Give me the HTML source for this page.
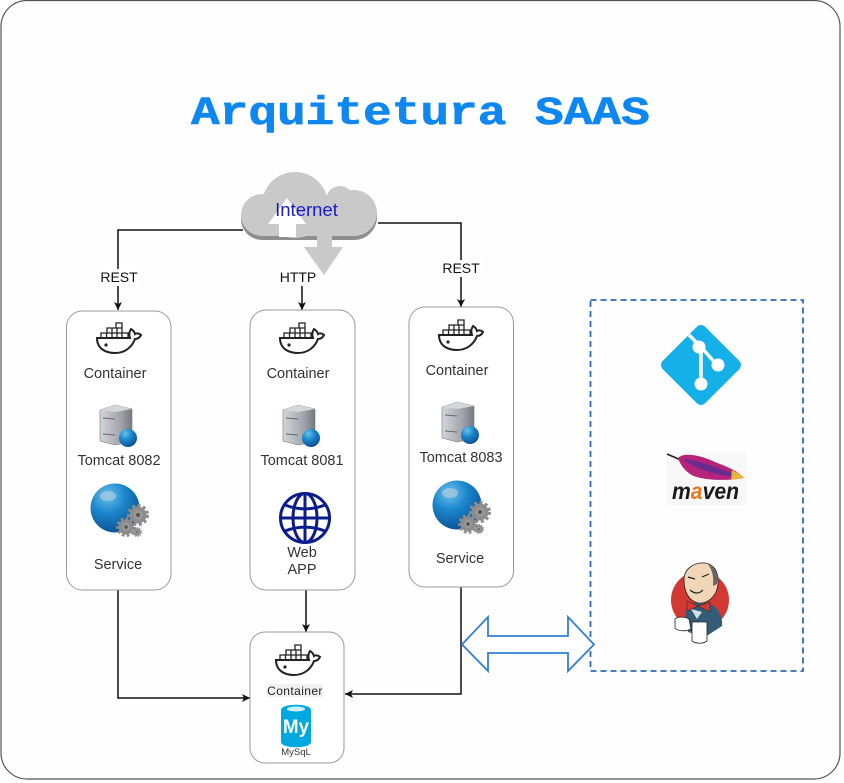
<!DOCTYPE html>
<html><head><meta charset="utf-8"><title>Arquitetura SAAS</title>
<style>html,body{margin:0;padding:0;background:#fff}svg{display:block}text{font-family:"Liberation Sans",sans-serif}</style></head>
<body>
<svg width="844" height="783" viewBox="0 0 844 783" xmlns="http://www.w3.org/2000/svg">
<defs>
<marker id="a" markerWidth="10" markerHeight="10" refX="8" refY="4" orient="auto" markerUnits="userSpaceOnUse"><path d="M0 0L8 4L0 8L2 4Z" fill="#111"/></marker>
<g id="docker">
<path d="M-21 -1C-21 10 -12 14 -3 14C7 14 14 8 17 0C20 0 22 -2 23 -4C21 -6 18 -6 17 -5C16 -8 15 -9 13 -10C11 -7 11 -4 12 -1Z" fill="#fff" stroke="#222" stroke-width="2"/>
<path d="M-17 -1V-6H10V-1M-11 -6V-11H4V-6M-2 -11V-16H4V-11M-11.500 -6V-1M-6 -11V-1M-1 -11V-1M4 -6V-1" fill="none" stroke="#222" stroke-width="1.300"/>
<circle cx="-12" cy="6" r="1.600" fill="#222"/>
</g>
<radialGradient id="blue" cx="35%" cy="25%" r="80%"><stop offset="0" stop-color="#6cc1ea"/><stop offset=".45" stop-color="#1b86cc"/><stop offset="1" stop-color="#0a4f8f"/></radialGradient>
<linearGradient id="srv" x1="0" x2="1"><stop offset="0" stop-color="#d2d5da"/><stop offset=".65" stop-color="#a0a4aa"/><stop offset="1" stop-color="#767a80"/></linearGradient>
<g id="server">
<path d="M-18 -21L-3 -26L14 -22V11L-3 14L-18 10Z" fill="url(#srv)" stroke="#777" stroke-width=".6"/>
<path d="M-18 -21L-3 -26L14 -22L-3 -19Z" fill="#d4d6da"/>
<path d="M-15 -13L-3 -12M-15 3L-3 4" stroke="#666"/>
<circle cx="10" cy="7" r="9" fill="url(#blue)"/>
</g>
<g id="gear"><circle r="6.500" fill="#9a9a9a" stroke="#8c8c8c" stroke-width="4"/><circle r="9.500" fill="none" stroke="#8c8c8c" stroke-width="3" stroke-dasharray="3 2.500"/><circle r="2" fill="#555"/></g>
<g id="service">
<circle cx="0" cy="0" r="24.500" fill="url(#blue)"/>
<ellipse cx="-7" cy="-12" rx="8" ry="5" fill="#a8c8dc" opacity=".75"/>
<use href="#gear" transform="translate(23 7)"/>
<use href="#gear" transform="translate(11 19) scale(.9)"/>
<use href="#gear" transform="translate(22 24) scale(.45)"/>
</g>
</defs>

<rect width="844" height="783" fill="#fff"/>
<rect x="1" y="0.500" width="839" height="778.500" rx="26" fill="#fefefe" stroke="#555" stroke-width="1.200"/>
<text transform="translate(191 124) scale(1.210 1)" style="font-family:'Liberation Mono',monospace;font-weight:bold;font-size:39.500px" fill="#0f87f0" stroke="#0f87f0" stroke-width=".6">Arquitetura SAAS</text>

<!-- connectors -->
<g fill="none" stroke="#111" stroke-width="1.500">
<path d="M243 230H118V310" marker-end="url(#a)"/>
<path d="M378 223H461V307" marker-end="url(#a)"/>
<path d="M302 286V310" marker-end="url(#a)"/>
<path d="M118 590V698H250" marker-end="url(#a)"/>
<path d="M461 587V694H345" marker-end="url(#a)"/>
<path d="M306 590V632" marker-end="url(#a)"/>
</g>
<rect x="98" y="269" width="42" height="17" fill="#fff"/>
<rect x="440" y="260" width="42" height="17" fill="#fff"/>
<text x="119" y="282" font-size="14" text-anchor="middle" fill="#111">REST</text>
<text x="461" y="273" font-size="14" text-anchor="middle" fill="#111">REST</text>

<!-- boxes -->
<g fill="#fff" stroke="#9a9a9a" stroke-width="1">
<rect x="66.500" y="311" width="104.500" height="279" rx="16"/>
<rect x="250" y="310" width="105" height="280" rx="16"/>
<rect x="409" y="307" width="104.500" height="280" rx="16"/>
<rect x="250" y="632" width="94" height="131" rx="15"/>
</g>

<!-- cloud -->
<path d="M317 238H332V247H343L324 275L304 247H317Z" fill="#c9c9c9"/>
<g fill="#8e8e8e" transform="translate(0 4)">
<circle cx="262" cy="215" r="21"/><circle cx="354" cy="213" r="23"/><rect x="262" y="216" width="92" height="20"/>
</g>
<g fill="#c9c9c9">
<circle cx="262" cy="215" r="21"/>
<circle cx="295" cy="205" r="33"/>
<circle cx="340" cy="200" r="14"/>
<circle cx="354" cy="213" r="23"/>
<rect x="262" y="200" width="92" height="36"/>
</g>
<path d="M317 236H332V247H343L324 275L304 247H317Z" fill="#c9c9c9"/>
<path d="M287 198L306 224H296V237H279V224H268Z" fill="#fff"/>
<text x="306.500" y="216" font-size="18.500" text-anchor="middle" fill="#1a1acd">Internet</text>
<text x="298" y="282" font-size="14" text-anchor="middle" fill="#111">HTTP</text>

<!-- column 1 -->
<use href="#docker" x="118" y="339"/>
<text x="115" y="378" font-size="14.500" text-anchor="middle" fill="#333">Container</text>
<use href="#server" x="118" y="431"/>
<text x="119" y="465" font-size="14.500" text-anchor="middle" fill="#333">Tomcat 8082</text>
<use href="#service" x="115" y="508"/>
<text x="118" y="569" font-size="14.500" text-anchor="middle" fill="#333">Service</text>

<!-- column 2 -->
<use href="#docker" x="301" y="339"/>
<text x="298" y="378" font-size="14.500" text-anchor="middle" fill="#333">Container</text>
<use href="#server" x="301" y="431"/>
<text x="302" y="465" font-size="14.500" text-anchor="middle" fill="#333">Tomcat 8081</text>
<g fill="none" stroke="#0b1c8c" stroke-width="3">
<circle cx="305" cy="518" r="24.500"/>
<ellipse cx="305" cy="518" rx="12" ry="24.500"/>
<path d="M305 493.500V542.500M281 518H329M285 505C298 510 312 510 325 505M285 531C298 526 312 526 325 531"/>
</g>
<text x="302" y="557" font-size="14.500" text-anchor="middle" fill="#333">Web</text>
<text x="302" y="574" font-size="14.500" text-anchor="middle" fill="#333">APP</text>

<!-- column 3 -->
<use href="#docker" x="460" y="336"/>
<text x="457" y="375" font-size="14.500" text-anchor="middle" fill="#333">Container</text>
<use href="#server" x="460" y="428"/>
<text x="461" y="462" font-size="14.500" text-anchor="middle" fill="#333">Tomcat 8083</text>
<use href="#service" x="457" y="505"/>
<text x="460" y="563" font-size="14.500" text-anchor="middle" fill="#333">Service</text>

<!-- db box -->
<use href="#docker" x="297" y="661"/>
<rect x="267" y="684" width="56" height="13" fill="#f1f1f1"/>
<text x="295" y="695" font-size="12" text-anchor="middle" fill="#222" letter-spacing=".4">Container</text>
<path d="M281 710C281 703 311 703 311 710V742C311 749 281 749 281 742Z" fill="#00a8e0"/>
<ellipse cx="296" cy="709" rx="9" ry="2.500" fill="#cdeffa"/>
<text x="283" y="733" font-size="19" font-weight="bold" textLength="26" lengthAdjust="spacingAndGlyphs" fill="#fff">My</text>
<text x="296" y="755" font-size="9.500" text-anchor="middle" fill="#333">MySqL</text>

<!-- dashed -->
<rect x="590.500" y="300" width="212.500" height="371" fill="none" stroke="#2b6cb5" stroke-width="1.800" stroke-dasharray="6 4"/>

<!-- double arrow -->
<path d="M462 644.500L488 617V636H568V617L594 644.500L568 671V653H488V671Z" fill="#fff" stroke="#2f80d8" stroke-width="1.800"/>

<!-- git -->
<rect x="671" y="335" width="60" height="60" rx="6" transform="rotate(45 701 365)" fill="#15b0e8"/>
<path d="M689 335L701 347V386M701 347L717 365" fill="none" stroke="#fff" stroke-width="3.500"/>
<circle cx="699" cy="347" r="6.500" fill="#fff"/>
<circle cx="718" cy="365" r="6.500" fill="#fff"/>
<circle cx="701" cy="384" r="6.500" fill="#fff"/>

<!-- maven -->
<rect x="666" y="452" width="80" height="54" fill="#f8f8f8"/>
<path d="M667 454L690 464" stroke="#222" stroke-width="1.500"/>
<path d="M678 458C684 452 700 455 715 462C728 467 738 471 744 478C730 481 700 481 690 474C684 470 680 464 678 458Z" fill="#b5237a"/>
<path d="M682 459C702 461 725 470 741 477C720 477 698 470 682 459Z" fill="#6b2c91"/>
<path d="M732 470C738 473 742 475 744 478L731 480Z" fill="#e5b73b"/>
<text x="672" y="499" font-size="23" font-weight="bold" font-style="italic" textLength="67" lengthAdjust="spacingAndGlyphs" fill="#1a1a1a">m<tspan fill="#e8781e">a</tspan>ven</text>

<!-- jenkins -->
<circle cx="700" cy="600" r="29" fill="#d33833"/>
<path d="M685 614C687 604 697 601 707 603C718 606 723 616 722 626L705 637L688 632Z" fill="#335c78"/>
<path d="M684 580C684 568 695 562 705 563C714 564 719 572 718 584C717 596 708 604 698 603C689 601 684 592 684 580Z" fill="#f0d6b7" stroke="#222" stroke-width=".8"/>
<path d="M708 564C715 567 719 574 717 584L713 586C714 576 712 570 708 564Z" fill="#666"/>
<path d="M690 590Q697 596 703 590" stroke="#222" fill="none" stroke-width="1.200"/>
<path d="M688 577L695 579M702 577L709 574" stroke="#222" stroke-width="1.200"/>
<path d="M698 606L687 601V611ZM698 606L710 602V612Z" fill="#d33833" stroke="#222" stroke-width=".5"/>
<path d="M691 609L702 612L697 619Z" fill="#d5e0e6"/>
<path d="M692 622H707V641C703 644 696 644 692 641Z" fill="#fff" stroke="#222" stroke-width=".8"/>
<path d="M675 619C678 616 686 617 689 619L691 629C685 632 678 631 675 628Z" fill="#fff" stroke="#222" stroke-width=".8"/>
</svg>
</body></html>
